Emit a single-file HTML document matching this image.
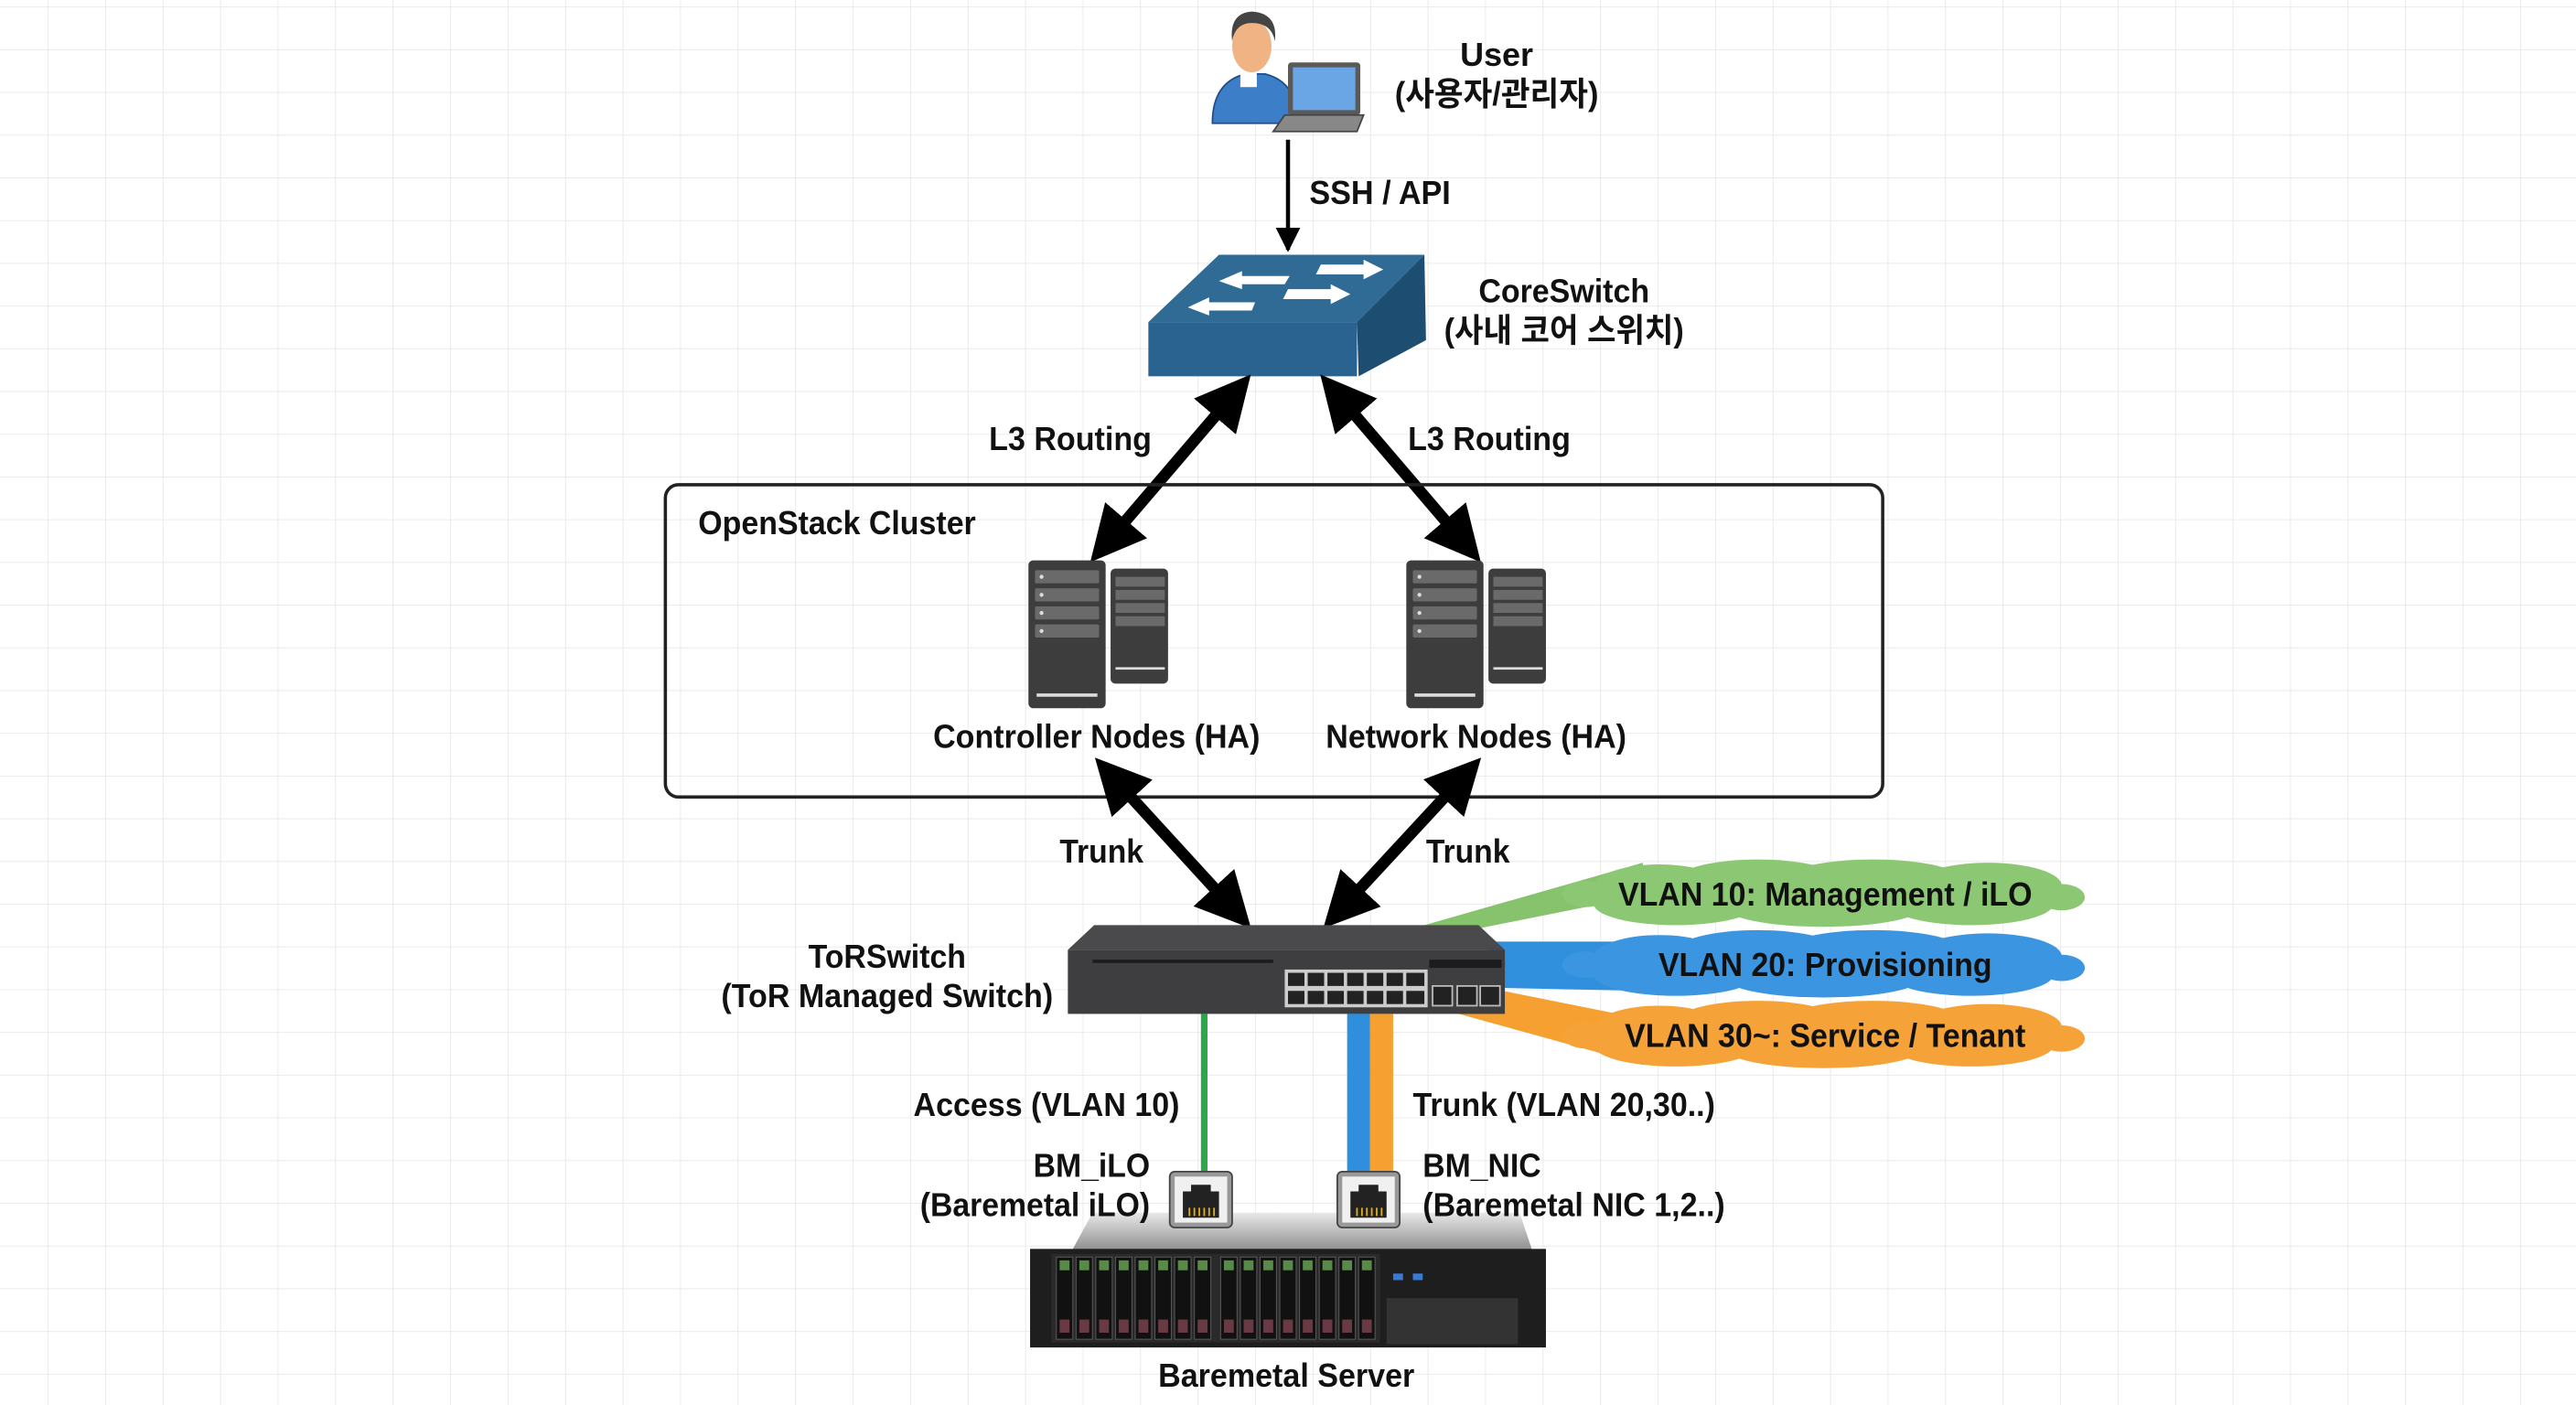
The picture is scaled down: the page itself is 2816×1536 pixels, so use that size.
<!DOCTYPE html>
<html><head><meta charset="utf-8"><style>
html,body{margin:0;padding:0;background:#fff}
svg{display:block}
text{font-family:"Liberation Sans","Noto Sans CJK KR",sans-serif;font-weight:bold;fill:#111}
</style></head><body>
<svg width="2816" height="1536" viewBox="0 0 1568 855" preserveAspectRatio="none" xmlns="http://www.w3.org/2000/svg">
<defs>
<marker id="ah" viewBox="0 0 10 10" refX="8" refY="5" markerWidth="4.8" markerHeight="4.8" orient="auto-start-reverse"><path d="M0,0L10,5L0,10z" fill="#000"/></marker>
<marker id="as" viewBox="0 0 10 10" refX="9" refY="5" markerWidth="6" markerHeight="6" orient="auto"><path d="M0,0L10,5L0,10z" fill="#000"/></marker>
<pattern id="grid" width="35" height="26" patternUnits="userSpaceOnUse" x="29" y="4">
<path d="M0,0V26M0,0H35" stroke="#e8e8ea" stroke-width="1" fill="none"/></pattern>
<linearGradient id="srvtop" x1="0" y1="0" x2="0" y2="1"><stop offset="0" stop-color="#e8e8e8"/><stop offset="1" stop-color="#8a8a8a"/></linearGradient>
<g id="cl">
<ellipse cx="0" cy="0" rx="140" ry="15"/>
<ellipse cx="-100" cy="-4" rx="40" ry="14"/><ellipse cx="-40" cy="-8" rx="50" ry="13"/>
<ellipse cx="30" cy="-8" rx="55" ry="13"/><ellipse cx="100" cy="-5" rx="45" ry="14"/>
<ellipse cx="-90" cy="6" rx="50" ry="13"/><ellipse cx="0" cy="8" rx="60" ry="12"/><ellipse cx="90" cy="6" rx="50" ry="13"/>
<ellipse cx="-145" cy="0" rx="14" ry="8"/><ellipse cx="145" cy="2" rx="14" ry="8"/>
</g>
<g id="tower">
<rect x="0" y="0" width="47" height="90" rx="3" fill="#3d3d3d"/>
<rect x="4" y="6" width="39" height="8" rx="1" fill="#6a6a6a"/><rect x="4" y="17" width="39" height="8" rx="1" fill="#6a6a6a"/>
<rect x="4" y="28" width="39" height="8" rx="1" fill="#6a6a6a"/><rect x="4" y="39" width="39" height="8" rx="1" fill="#6a6a6a"/>
<circle cx="8" cy="10" r="1.2" fill="#ddd"/><circle cx="8" cy="21" r="1.2" fill="#ddd"/><circle cx="8" cy="32" r="1.2" fill="#ddd"/><circle cx="8" cy="43" r="1.2" fill="#ddd"/>
<rect x="5" y="81" width="37" height="2" fill="#ddd"/>
<rect x="50" y="5" width="35" height="70" rx="3" fill="#3d3d3d"/>
<rect x="53" y="10" width="30" height="6" fill="#6a6a6a"/><rect x="53" y="18" width="30" height="6" fill="#6a6a6a"/><rect x="53" y="26" width="30" height="6" fill="#6a6a6a"/><rect x="53" y="34" width="30" height="6" fill="#6a6a6a"/>
<rect x="53" y="65" width="30" height="1.5" fill="#ddd"/>
</g>
<g id="rj">
<rect x="0" y="0" width="38" height="34" rx="3" fill="#999" stroke="#444" stroke-width="1"/>
<rect x="3" y="3" width="32" height="28" fill="#f0f0f0"/>
<path d="M8,28V12H13V8H25V12H30V28z" fill="#222"/>
<g stroke="#e0b020" stroke-width="1"><path d="M12,22V27M15,22V27M18,22V27M21,22V27M24,22V27M27,22V27"/></g>
</g>
<g id="bay"><rect x="0" y="0" width="10" height="50" fill="#111" stroke="#555" stroke-width="0.6"/><rect x="2" y="2" width="6" height="6" fill="#5a8a4a"/><rect x="2" y="38" width="6" height="8" fill="#6a3a44"/></g>
</defs>
<rect width="1568" height="855" fill="#fff"/>
<rect width="1568" height="855" fill="url(#grid)"/>

<!-- User icon -->
<g>
<path d="M738,75 Q738,50 758,45 L770,45 Q790,50 790,75z" fill="#3c7fc8" stroke="#1f4f8a"/>
<rect x="755" y="43" width="10" height="10" fill="#fff"/>
<ellipse cx="762" cy="28" rx="12" ry="16" fill="#f0b384"/>
<path d="M750,25 Q748,8 762,7 Q778,8 776,25 Q774,14 762,14 Q752,14 750,25z" fill="#444"/>
<rect x="784" y="38" width="44" height="32" rx="2" fill="#5a5a5a"/>
<rect x="787" y="41" width="38" height="26" fill="#6aa6e6"/>
<path d="M775,80 L782,70 L830,70 L826,80z" fill="#888" stroke="#444"/>
</g>
<text x="911" y="40" text-anchor="middle" font-size="20">User</text>
<text x="911" y="64" text-anchor="middle" font-size="20" textLength="124" lengthAdjust="spacingAndGlyphs">(사용자/관리자)</text>

<line x1="784" y1="85" x2="784" y2="152" stroke="#000" stroke-width="2.5" marker-end="url(#as)"/>
<text x="797" y="124" font-size="20" textLength="86" lengthAdjust="spacingAndGlyphs">SSH / API</text>

<!-- Core switch -->
<polygon points="742,155 867,155 826,196 699,196" fill="#2f6b95"/>
<polygon points="699,196 826,196 826,229 699,229" fill="#2a6390"/>
<polygon points="826,196 867,155 868,207 827,229" fill="#1e4d72"/>
<g fill="#fff">
<polygon points="804,161 830,161 830,158 842,164 830,170 830,167 801,167"/>
<polygon points="756,168 785,168 782,173 756,173 756,176 742,171 756,165"/>
<polygon points="784,176 810,176 810,173 822,179 810,185 810,182 781,182"/>
<polygon points="736,184 764,184 762,189 736,189 736,192 723,187 736,181"/>
</g>
<text x="952" y="184" text-anchor="middle" font-size="20" textLength="104" lengthAdjust="spacingAndGlyphs">CoreSwitch</text>
<text x="952" y="208" text-anchor="middle" font-size="20" textLength="146" lengthAdjust="spacingAndGlyphs">(사내 코어 스위치)</text>

<!-- L3 arrows -->
<line x1="757" y1="233" x2="668" y2="337" stroke="#000" stroke-width="7" marker-start="url(#ah)" marker-end="url(#ah)"/>
<line x1="808" y1="233" x2="897" y2="337" stroke="#000" stroke-width="7" marker-start="url(#ah)" marker-end="url(#ah)"/>
<text x="602" y="274" font-size="20" textLength="99" lengthAdjust="spacingAndGlyphs">L3 Routing</text>
<text x="857" y="274" font-size="20" textLength="99" lengthAdjust="spacingAndGlyphs">L3 Routing</text>

<!-- Cluster -->
<rect x="405" y="295" width="741" height="190" rx="8" fill="none" stroke="#222" stroke-width="2"/>
<text x="425" y="325" font-size="20" textLength="169" lengthAdjust="spacingAndGlyphs">OpenStack Cluster</text>
<use href="#tower" x="626" y="341"/>
<use href="#tower" x="856" y="341"/>
<text x="568" y="455" font-size="20" textLength="199" lengthAdjust="spacingAndGlyphs">Controller Nodes (HA)</text>
<text x="807" y="455" font-size="20" textLength="183" lengthAdjust="spacingAndGlyphs">Network Nodes (HA)</text>

<!-- Trunk arrows -->
<line x1="671" y1="466" x2="757" y2="560" stroke="#000" stroke-width="7" marker-start="url(#ah)" marker-end="url(#ah)"/>
<line x1="897" y1="466" x2="810" y2="560" stroke="#000" stroke-width="7" marker-start="url(#ah)" marker-end="url(#ah)"/>
<text x="645" y="525" font-size="20" textLength="51" lengthAdjust="spacingAndGlyphs">Trunk</text>
<text x="868" y="525" font-size="20" textLength="51" lengthAdjust="spacingAndGlyphs">Trunk</text>

<!-- VLAN bands -->
<polygon points="860,565 900,565 1000,545 1000,525" fill="#86c36c"/>
<polygon points="905,573 1000,573 1000,603 905,601" fill="#3090de"/>
<polygon points="870,612 915,603 1000,620 1000,648" fill="#f5a030"/>
<g fill="#8cc873"><use href="#cl" x="1110" y="544"/></g>
<g fill="#3b95e0"><use href="#cl" x="1110" y="587"/></g>
<g fill="#f5a338"><use href="#cl" x="1110" y="630"/></g>
<text x="1111" y="551" text-anchor="middle" font-size="20" textLength="252" lengthAdjust="spacingAndGlyphs">VLAN 10: Management / iLO</text>
<text x="1111" y="594" text-anchor="middle" font-size="20" textLength="203" lengthAdjust="spacingAndGlyphs">VLAN 20: Provisioning</text>
<text x="1111" y="637" text-anchor="middle" font-size="20" textLength="244" lengthAdjust="spacingAndGlyphs">VLAN 30~: Service / Tenant</text>

<!-- ToR switch -->
<polygon points="666,563 900,563 916,578 650,578" fill="#4a4a4c"/>
<rect x="650" y="578" width="266" height="39" fill="#3e3e40"/>
<rect x="665" y="584" width="110" height="2" fill="#1c1c1c"/>
<rect x="870" y="584" width="44" height="5" fill="#1c1c1c"/>
<rect x="782" y="590" width="87" height="23" fill="#ccc"/>
<g fill="#222">
<rect x="784" y="592" width="10" height="8"/><rect x="796" y="592" width="10" height="8"/><rect x="808" y="592" width="10" height="8"/><rect x="820" y="592" width="10" height="8"/><rect x="832" y="592" width="10" height="8"/><rect x="844" y="592" width="10" height="8"/><rect x="856" y="592" width="11" height="8"/>
<rect x="784" y="603" width="10" height="8"/><rect x="796" y="603" width="10" height="8"/><rect x="808" y="603" width="10" height="8"/><rect x="820" y="603" width="10" height="8"/><rect x="832" y="603" width="10" height="8"/><rect x="844" y="603" width="10" height="8"/><rect x="856" y="603" width="11" height="8"/>
</g>
<g fill="#222" stroke="#bbb" stroke-width="1"><rect x="872" y="600" width="12" height="12"/><rect x="887" y="600" width="12" height="12"/><rect x="901" y="600" width="12" height="12"/></g>
<text x="540" y="589" text-anchor="middle" font-size="20" textLength="96" lengthAdjust="spacingAndGlyphs">ToRSwitch</text>
<text x="540" y="613" text-anchor="middle" font-size="20" textLength="202" lengthAdjust="spacingAndGlyphs">(ToR Managed Switch)</text>

<!-- links down -->
<rect x="731" y="617" width="4" height="98" fill="#2aa84a"/>
<rect x="820" y="617" width="14" height="98" fill="#2f8fdc"/>
<rect x="834" y="617" width="14" height="98" fill="#f5a030"/>
<text x="556" y="679" font-size="20" textLength="162" lengthAdjust="spacingAndGlyphs">Access (VLAN 10)</text>
<text x="860" y="679" font-size="20" textLength="184" lengthAdjust="spacingAndGlyphs">Trunk (VLAN 20,30..)</text>

<!-- Baremetal server -->
<polygon points="652,762 665,738 925,738 933,762" fill="url(#srvtop)"/>
<rect x="627" y="760" width="314" height="60" fill="#1e1e1e"/>
<rect x="640" y="763" width="200" height="54" fill="#2a2a2a"/>
<use href="#bay" x="643" y="765"/><use href="#bay" x="655" y="765"/><use href="#bay" x="667" y="765"/><use href="#bay" x="679" y="765"/><use href="#bay" x="691" y="765"/><use href="#bay" x="703" y="765"/><use href="#bay" x="715" y="765"/><use href="#bay" x="727" y="765"/>
<use href="#bay" x="743" y="765"/><use href="#bay" x="755" y="765"/><use href="#bay" x="767" y="765"/><use href="#bay" x="779" y="765"/><use href="#bay" x="791" y="765"/><use href="#bay" x="803" y="765"/><use href="#bay" x="815" y="765"/><use href="#bay" x="827" y="765"/>
<rect x="844" y="790" width="80" height="28" fill="#333"/>
<rect x="848" y="775" width="6" height="4" fill="#3a7ad0"/><rect x="860" y="775" width="6" height="4" fill="#3a7ad0"/>
<use href="#rj" x="712" y="713"/>
<use href="#rj" x="814" y="713"/>
<text x="629" y="716" font-size="20" textLength="71" lengthAdjust="spacingAndGlyphs">BM_iLO</text>
<text x="560" y="740" font-size="20" textLength="140" lengthAdjust="spacingAndGlyphs">(Baremetal iLO)</text>
<text x="866" y="716" font-size="20" textLength="72" lengthAdjust="spacingAndGlyphs">BM_NIC</text>
<text x="866" y="740" font-size="20" textLength="184" lengthAdjust="spacingAndGlyphs">(Baremetal NIC 1,2..)</text>
<text x="783" y="844" text-anchor="middle" font-size="20" textLength="156" lengthAdjust="spacingAndGlyphs">Baremetal Server</text>
</svg>
</body></html>
